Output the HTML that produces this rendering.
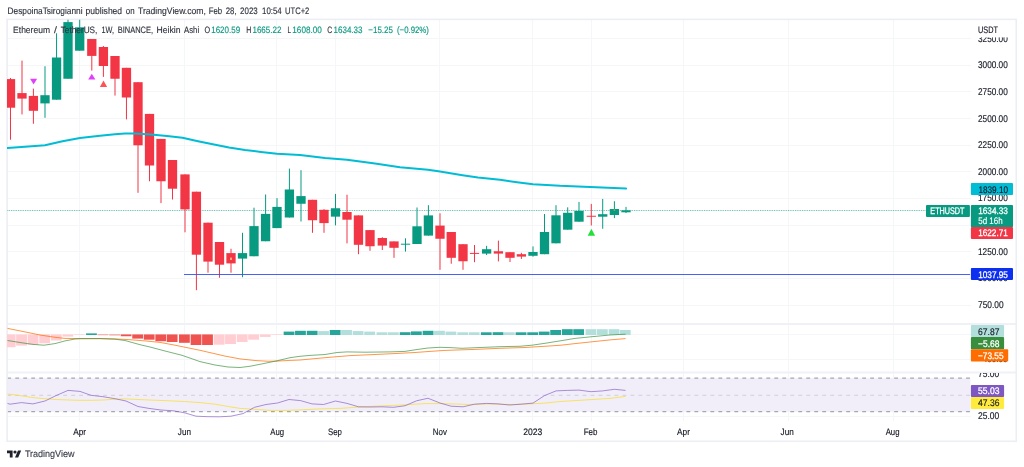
<!DOCTYPE html>
<html><head><meta charset="utf-8"><title>ETHUSDT chart</title>
<style>html,body{margin:0;padding:0;background:#fff}svg{display:block}</style></head>
<body>
<svg width="1024" height="467" viewBox="0 0 1024 467" font-family="Liberation Sans, sans-serif" text-rendering="geometricPrecision">
<rect width="1024" height="467" fill="#fff"/>
<text transform="translate(7.5,13.7) scale(0.3917)" font-size="24" fill="#2f333e" textLength="191.49" lengthAdjust="spacingAndGlyphs"  stroke="#2f333e" stroke-width="0.36">DespoinaTsirogianni</text>
<text transform="translate(85.6,13.7) scale(0.3917)" font-size="24" fill="#2f333e" textLength="93.19" lengthAdjust="spacingAndGlyphs"  stroke="#2f333e" stroke-width="0.36">published</text>
<text transform="translate(125.8,13.7) scale(0.3917)" font-size="24" fill="#2f333e" textLength="22.47" lengthAdjust="spacingAndGlyphs"  stroke="#2f333e" stroke-width="0.36">on</text>
<text transform="translate(138.0,13.7) scale(0.3917)" font-size="24" fill="#2f333e" textLength="173.36" lengthAdjust="spacingAndGlyphs"  stroke="#2f333e" stroke-width="0.36">TradingView.com,</text>
<text transform="translate(208.8,13.7) scale(0.3917)" font-size="24" fill="#2f333e" textLength="34.21" lengthAdjust="spacingAndGlyphs"  stroke="#2f333e" stroke-width="0.36">Feb</text>
<text transform="translate(225.7,13.7) scale(0.3917)" font-size="24" fill="#2f333e" textLength="27.83" lengthAdjust="spacingAndGlyphs"  stroke="#2f333e" stroke-width="0.36">28,</text>
<text transform="translate(240.1,13.7) scale(0.3917)" font-size="24" fill="#2f333e" textLength="44.94" lengthAdjust="spacingAndGlyphs"  stroke="#2f333e" stroke-width="0.36">2023</text>
<text transform="translate(262,13.7) scale(0.3917)" font-size="24" fill="#2f333e" textLength="50.30" lengthAdjust="spacingAndGlyphs"  stroke="#2f333e" stroke-width="0.36">10:54</text>
<text transform="translate(285,13.7) scale(0.3917)" font-size="24" fill="#2f333e" textLength="62.04" lengthAdjust="spacingAndGlyphs"  stroke="#2f333e" stroke-width="0.36">UTC+2</text>
<clipPath id="plot"><rect x="7" y="19.5" width="963.2" height="421.5"/></clipPath>
<g stroke="#f5f6f8" stroke-width="1" shape-rendering="crispEdges">
<line x1="7.5" x2="970.7" y1="38.40" y2="38.40"/>
<line x1="7.5" x2="970.7" y1="65.09" y2="65.09"/>
<line x1="7.5" x2="970.7" y1="91.78" y2="91.78"/>
<line x1="7.5" x2="970.7" y1="118.47" y2="118.47"/>
<line x1="7.5" x2="970.7" y1="145.16" y2="145.16"/>
<line x1="7.5" x2="970.7" y1="171.85" y2="171.85"/>
<line x1="7.5" x2="970.7" y1="198.54" y2="198.54"/>
<line x1="7.5" x2="970.7" y1="225.23" y2="225.23"/>
<line x1="7.5" x2="970.7" y1="251.92" y2="251.92"/>
<line x1="7.5" x2="970.7" y1="278.61" y2="278.61"/>
<line x1="7.5" x2="970.7" y1="305.30" y2="305.30"/>
<line x1="7.5" x2="970.7" y1="334.60" y2="334.60"/>
<line x1="7.5" x2="970.7" y1="359.20" y2="359.20"/>
<line x1="7.5" x2="970.7" y1="416.40" y2="416.40"/>
<line x1="79.50" x2="79.50" y1="19.5" y2="421.2"/>
<line x1="184.55" x2="184.55" y1="19.5" y2="421.2"/>
<line x1="276.80" x2="276.80" y1="19.5" y2="421.2"/>
<line x1="335.30" x2="335.30" y1="19.5" y2="421.2"/>
<line x1="439.60" x2="439.60" y1="19.5" y2="421.2"/>
<line x1="532.80" x2="532.80" y1="19.5" y2="421.2"/>
<line x1="591.10" x2="591.10" y1="19.5" y2="421.2"/>
<line x1="683.97" x2="683.97" y1="19.5" y2="421.2"/>
<line x1="788.50" x2="788.50" y1="19.5" y2="421.2"/>
<line x1="893.04" x2="893.04" y1="19.5" y2="421.2"/>
</g>
<rect x="7.5" y="378.2" width="962.9" height="33.5" fill="#f1eefa"/>
<g stroke="#a4a7b0" fill="none">
<line x1="7.3" x2="970.4" y1="378.2" y2="378.2" stroke-width="1.25" stroke-dasharray="3.8 4.19"/>
<line x1="7.3" x2="970.4" y1="411.7" y2="411.7" stroke-width="1.25" stroke-dasharray="3.8 4.19"/>
<line x1="7.3" x2="970.4" y1="395.3" y2="395.3" stroke-width="0.55" stroke-opacity="0.8" stroke-dasharray="3.8 4.19"/>
</g>
<g stroke="#eceef4" stroke-width="1.6" fill="none">
<line x1="7.1" x2="1016.3" y1="323.9" y2="323.9" stroke="#eff1f6" stroke-width="2"/>
<line x1="7.1" x2="1016.3" y1="372.6" y2="372.6" stroke="#eff1f6" stroke-width="2"/>
<rect x="7.1" y="19.4" width="1009.1999999999999" height="421.90000000000003"/>
</g>
<g clip-path="url(#plot)">
<line x1="7.5" x2="926" y1="210.5" y2="210.5" stroke="#089981" stroke-width="1" stroke-dasharray="0.9 0.85" stroke-opacity="0.65"/>
<rect x="10.00" y="78.00" width="1" height="61.70" fill="#F23645"/>
<rect x="5.85" y="79.10" width="9.3" height="28.60" fill="#F23645"/>
<rect x="21.50" y="60.60" width="1" height="53.80" fill="#F23645"/>
<rect x="17.35" y="93.10" width="9.3" height="5.50" fill="#F23645"/>
<rect x="32.90" y="88.60" width="1" height="35.15" fill="#F23645"/>
<rect x="28.75" y="95.90" width="9.3" height="14.90" fill="#F23645"/>
<rect x="44.50" y="66.25" width="1" height="51.55" fill="#089981"/>
<rect x="40.35" y="95.20" width="9.3" height="8.20" fill="#089981"/>
<rect x="56.05" y="33.30" width="1" height="66.40" fill="#089981"/>
<rect x="51.90" y="57.50" width="9.3" height="42.20" fill="#089981"/>
<rect x="67.50" y="19.50" width="1" height="59.25" fill="#089981"/>
<rect x="63.35" y="22.10" width="9.3" height="56.65" fill="#089981"/>
<rect x="79.20" y="19.50" width="1" height="31.20" fill="#089981"/>
<rect x="75.05" y="27.30" width="9.3" height="23.40" fill="#089981"/>
<rect x="91.30" y="39.00" width="1" height="31.60" fill="#F23645"/>
<rect x="87.15" y="39.00" width="9.3" height="16.90" fill="#F23645"/>
<rect x="102.90" y="46.00" width="1" height="30.90" fill="#F23645"/>
<rect x="98.75" y="47.00" width="9.3" height="19.00" fill="#F23645"/>
<rect x="114.50" y="56.00" width="1" height="39.60" fill="#F23645"/>
<rect x="110.35" y="56.00" width="9.3" height="22.75" fill="#F23645"/>
<rect x="125.95" y="67.80" width="1" height="51.60" fill="#F23645"/>
<rect x="121.80" y="67.80" width="9.3" height="29.70" fill="#F23645"/>
<rect x="137.50" y="82.20" width="1" height="110.60" fill="#F23645"/>
<rect x="133.35" y="82.20" width="9.3" height="63.10" fill="#F23645"/>
<rect x="149.00" y="113.90" width="1" height="67.35" fill="#F23645"/>
<rect x="144.85" y="113.90" width="9.3" height="51.60" fill="#F23645"/>
<rect x="160.50" y="138.90" width="1" height="64.20" fill="#F23645"/>
<rect x="156.35" y="138.90" width="9.3" height="42.35" fill="#F23645"/>
<rect x="172.00" y="160.00" width="1" height="39.50" fill="#F23645"/>
<rect x="167.85" y="160.00" width="9.3" height="28.70" fill="#F23645"/>
<rect x="184.50" y="174.40" width="1" height="57.90" fill="#F23645"/>
<rect x="180.35" y="174.40" width="9.3" height="35.00" fill="#F23645"/>
<rect x="195.90" y="191.70" width="1" height="98.50" fill="#F23645"/>
<rect x="191.75" y="191.70" width="9.3" height="63.00" fill="#F23645"/>
<rect x="207.50" y="222.70" width="1" height="50.00" fill="#F23645"/>
<rect x="203.35" y="222.70" width="9.3" height="38.90" fill="#F23645"/>
<rect x="219.00" y="242.00" width="1" height="35.70" fill="#F23645"/>
<rect x="214.85" y="242.00" width="9.3" height="22.70" fill="#F23645"/>
<rect x="230.50" y="248.75" width="1" height="23.95" fill="#F23645"/>
<rect x="226.35" y="253.10" width="9.3" height="10.30" fill="#F23645"/>
<rect x="242.00" y="232.80" width="1" height="44.40" fill="#089981"/>
<rect x="237.85" y="253.10" width="9.3" height="5.50" fill="#089981"/>
<rect x="253.50" y="207.70" width="1" height="48.55" fill="#089981"/>
<rect x="249.35" y="226.10" width="9.3" height="30.15" fill="#089981"/>
<rect x="265.10" y="194.50" width="1" height="46.75" fill="#089981"/>
<rect x="260.95" y="213.90" width="9.3" height="27.35" fill="#089981"/>
<rect x="276.50" y="198.10" width="1" height="30.00" fill="#089981"/>
<rect x="272.35" y="206.90" width="9.3" height="21.20" fill="#089981"/>
<rect x="288.90" y="168.60" width="1" height="48.90" fill="#089981"/>
<rect x="284.75" y="189.50" width="9.3" height="28.00" fill="#089981"/>
<rect x="300.50" y="170.20" width="1" height="51.30" fill="#089981"/>
<rect x="296.35" y="196.10" width="9.3" height="7.65" fill="#089981"/>
<rect x="312.00" y="199.80" width="1" height="33.00" fill="#F23645"/>
<rect x="307.85" y="199.80" width="9.3" height="20.45" fill="#F23645"/>
<rect x="323.50" y="209.20" width="1" height="23.60" fill="#F23645"/>
<rect x="319.35" y="209.80" width="9.3" height="13.30" fill="#F23645"/>
<rect x="335.00" y="193.90" width="1" height="31.50" fill="#089981"/>
<rect x="330.85" y="208.25" width="9.3" height="8.40" fill="#089981"/>
<rect x="346.50" y="194.70" width="1" height="48.70" fill="#F23645"/>
<rect x="342.35" y="212.00" width="9.3" height="7.70" fill="#F23645"/>
<rect x="357.95" y="215.40" width="1" height="38.80" fill="#F23645"/>
<rect x="353.80" y="215.40" width="9.3" height="29.40" fill="#F23645"/>
<rect x="369.50" y="230.10" width="1" height="20.70" fill="#F23645"/>
<rect x="365.35" y="230.10" width="9.3" height="16.15" fill="#F23645"/>
<rect x="381.80" y="237.20" width="1" height="12.80" fill="#F23645"/>
<rect x="377.65" y="238.00" width="9.3" height="7.60" fill="#F23645"/>
<rect x="393.50" y="241.40" width="1" height="16.40" fill="#F23645"/>
<rect x="389.35" y="241.40" width="9.3" height="6.40" fill="#F23645"/>
<rect x="405.00" y="238.30" width="1" height="13.30" fill="#089981"/>
<rect x="400.85" y="243.70" width="9.3" height="1.00" fill="#089981"/>
<rect x="416.50" y="207.50" width="1" height="36.50" fill="#089981"/>
<rect x="412.35" y="226.30" width="9.3" height="17.70" fill="#089981"/>
<rect x="427.90" y="205.20" width="1" height="30.40" fill="#089981"/>
<rect x="423.75" y="215.40" width="9.3" height="20.20" fill="#089981"/>
<rect x="439.50" y="213.30" width="1" height="56.50" fill="#F23645"/>
<rect x="435.35" y="225.60" width="9.3" height="13.15" fill="#F23645"/>
<rect x="450.75" y="232.00" width="1" height="31.75" fill="#F23645"/>
<rect x="446.60" y="232.00" width="9.3" height="25.80" fill="#F23645"/>
<rect x="462.50" y="244.20" width="1" height="25.60" fill="#F23645"/>
<rect x="458.35" y="244.20" width="9.3" height="17.05" fill="#F23645"/>
<rect x="474.00" y="245.00" width="1" height="17.20" fill="#F23645"/>
<rect x="469.85" y="252.90" width="9.3" height="1.00" fill="#F23645"/>
<rect x="486.10" y="245.80" width="1" height="9.20" fill="#089981"/>
<rect x="481.95" y="249.20" width="9.3" height="4.40" fill="#089981"/>
<rect x="497.90" y="240.60" width="1" height="20.80" fill="#F23645"/>
<rect x="493.75" y="251.25" width="9.3" height="2.35" fill="#F23645"/>
<rect x="509.50" y="252.20" width="1" height="9.80" fill="#F23645"/>
<rect x="505.35" y="252.20" width="9.3" height="5.60" fill="#F23645"/>
<rect x="520.90" y="252.80" width="1" height="6.10" fill="#F23645"/>
<rect x="516.75" y="254.20" width="9.3" height="2.40" fill="#F23645"/>
<rect x="532.50" y="246.40" width="1" height="10.30" fill="#089981"/>
<rect x="528.35" y="252.00" width="9.3" height="3.80" fill="#089981"/>
<rect x="544.00" y="214.00" width="1" height="40.20" fill="#089981"/>
<rect x="539.85" y="232.00" width="9.3" height="22.20" fill="#089981"/>
<rect x="555.50" y="205.20" width="1" height="38.10" fill="#089981"/>
<rect x="551.35" y="215.30" width="9.3" height="28.00" fill="#089981"/>
<rect x="567.20" y="207.30" width="1" height="22.40" fill="#089981"/>
<rect x="563.05" y="212.80" width="9.3" height="16.90" fill="#089981"/>
<rect x="578.50" y="201.90" width="1" height="19.80" fill="#089981"/>
<rect x="574.35" y="210.90" width="9.3" height="10.80" fill="#089981"/>
<rect x="590.80" y="203.90" width="1" height="21.60" fill="#F23645"/>
<rect x="586.65" y="215.75" width="9.3" height="1.00" fill="#F23645"/>
<rect x="602.20" y="198.90" width="1" height="29.85" fill="#089981"/>
<rect x="598.05" y="214.20" width="9.3" height="2.50" fill="#089981"/>
<rect x="613.90" y="201.25" width="1" height="16.85" fill="#089981"/>
<rect x="609.75" y="209.00" width="9.3" height="6.00" fill="#089981"/>
<rect x="625.50" y="206.90" width="1" height="6.10" fill="#089981"/>
<rect x="621.35" y="210.30" width="9.3" height="2.00" fill="#089981"/>
<rect x="230.40" y="257.6" width="1.2" height="2.4" fill="#FFF59D"/>
<rect x="613.70" y="209.4" width="1.4" height="1.4" fill="#9ab83a"/>
<line x1="184" x2="970.7" y1="274.5" y2="274.5" stroke="#3350f5" stroke-width="0.9"/>
<polyline points="7.50,148.00 25.00,146.80 45.00,145.20 62.50,141.25 80.00,138.10 100.00,135.80 115.00,134.30 125.00,133.60 135.00,133.40 151.00,134.40 167.00,135.90 182.50,137.80 198.00,141.25 214.00,144.50 229.00,147.50 245.00,150.00 261.00,151.90 277.00,153.75 300.00,155.00 325.00,158.10 347.00,159.70 375.00,163.60 400.00,167.20 428.00,169.70 440.00,171.60 462.50,175.20 478.00,177.50 500.00,179.80 517.00,182.20 533.00,184.20 560.00,185.80 590.00,186.90 626.00,188.60" fill="none" stroke="#00BCD4" stroke-width="2" stroke-linejoin="round" stroke-linecap="round"/>
<polygon points="30.10,78.75 37.10,78.75 33.60,84.40" fill="#E040FB"/>
<polygon points="91.80,73.80 95.40,79.60 88.20,79.60" fill="#E040FB"/>
<polygon points="103.50,80.40 107.10,87.00 99.90,87.00" fill="#FF5252"/>
<polygon points="591.40,228.70 595.10,235.70 587.70,235.70" fill="#22E03A"/>
<rect x="4.75" y="334.40" width="10.8" height="12.80" fill="#FFCDD2"/>
<rect x="16.15" y="334.40" width="10.8" height="11.20" fill="#FFCDD2"/>
<rect x="27.65" y="334.40" width="10.8" height="10.30" fill="#FFCDD2"/>
<rect x="39.25" y="334.40" width="10.8" height="8.90" fill="#FFCDD2"/>
<rect x="50.80" y="334.40" width="10.8" height="6.10" fill="#FFCDD2"/>
<rect x="62.45" y="334.40" width="10.8" height="2.20" fill="#FFCDD2"/>
<rect x="73.95" y="334.40" width="10.8" height="0.60" fill="#FFCDD2"/>
<rect x="86.05" y="333.40" width="10.8" height="1.60" fill="#26A69A"/>
<rect x="97.65" y="334.40" width="10.8" height="0.80" fill="#F28B88"/>
<rect x="109.25" y="334.40" width="10.8" height="1.00" fill="#F28B88"/>
<rect x="120.70" y="334.40" width="10.8" height="1.85" fill="#EF5350"/>
<rect x="132.25" y="334.40" width="10.8" height="4.20" fill="#EF5350"/>
<rect x="143.75" y="334.40" width="10.8" height="5.30" fill="#EF5350"/>
<rect x="155.35" y="334.40" width="10.8" height="6.85" fill="#EF5350"/>
<rect x="166.75" y="334.40" width="10.8" height="7.60" fill="#EF5350"/>
<rect x="179.00" y="334.40" width="10.8" height="8.40" fill="#EF5350"/>
<rect x="190.65" y="334.40" width="10.8" height="10.60" fill="#EF5350"/>
<rect x="202.10" y="334.40" width="10.8" height="10.60" fill="#EF5350"/>
<rect x="213.75" y="334.40" width="10.8" height="10.30" fill="#FFCDD2"/>
<rect x="225.10" y="334.40" width="10.8" height="9.60" fill="#FFCDD2"/>
<rect x="236.75" y="334.40" width="10.8" height="7.60" fill="#FFCDD2"/>
<rect x="248.20" y="334.40" width="10.8" height="5.30" fill="#FFCDD2"/>
<rect x="259.85" y="334.40" width="10.8" height="2.50" fill="#FFCDD2"/>
<rect x="271.25" y="334.40" width="10.8" height="0.60" fill="#FFCDD2"/>
<rect x="283.65" y="331.60" width="10.8" height="3.40" fill="#26A69A"/>
<rect x="295.05" y="330.80" width="10.8" height="4.20" fill="#26A69A"/>
<rect x="306.75" y="330.80" width="10.8" height="4.20" fill="#26A69A"/>
<rect x="318.15" y="331.10" width="10.8" height="3.90" fill="#B2DFDB"/>
<rect x="329.75" y="330.00" width="10.8" height="5.00" fill="#26A69A"/>
<rect x="341.15" y="330.00" width="10.8" height="5.00" fill="#B2DFDB"/>
<rect x="352.70" y="331.10" width="10.8" height="3.90" fill="#B2DFDB"/>
<rect x="364.25" y="331.60" width="10.8" height="3.40" fill="#B2DFDB"/>
<rect x="376.55" y="332.30" width="10.8" height="2.70" fill="#B2DFDB"/>
<rect x="387.90" y="332.30" width="10.8" height="2.70" fill="#B2DFDB"/>
<rect x="399.75" y="332.20" width="10.8" height="2.80" fill="#26A69A"/>
<rect x="410.95" y="331.40" width="10.8" height="3.60" fill="#26A69A"/>
<rect x="422.65" y="330.80" width="10.8" height="4.20" fill="#26A69A"/>
<rect x="434.05" y="330.80" width="10.8" height="4.20" fill="#B2DFDB"/>
<rect x="445.50" y="331.60" width="10.8" height="3.40" fill="#B2DFDB"/>
<rect x="457.35" y="332.30" width="10.8" height="2.70" fill="#B2DFDB"/>
<rect x="468.75" y="332.30" width="10.8" height="2.70" fill="#B2DFDB"/>
<rect x="480.85" y="332.30" width="10.8" height="2.70" fill="#26A69A"/>
<rect x="492.65" y="332.20" width="10.8" height="2.80" fill="#26A69A"/>
<rect x="503.95" y="332.30" width="10.8" height="2.70" fill="#B2DFDB"/>
<rect x="515.65" y="332.30" width="10.8" height="2.70" fill="#26A69A"/>
<rect x="527.25" y="332.30" width="10.8" height="2.70" fill="#26A69A"/>
<rect x="538.75" y="331.60" width="10.8" height="3.40" fill="#26A69A"/>
<rect x="550.25" y="330.00" width="10.8" height="5.00" fill="#26A69A"/>
<rect x="561.95" y="329.20" width="10.8" height="5.80" fill="#26A69A"/>
<rect x="573.25" y="329.20" width="10.8" height="5.80" fill="#26A69A"/>
<rect x="585.55" y="329.20" width="10.8" height="5.80" fill="#B2DFDB"/>
<rect x="596.95" y="329.20" width="10.8" height="5.80" fill="#B2DFDB"/>
<rect x="608.65" y="329.20" width="10.8" height="5.80" fill="#B2DFDB"/>
<rect x="619.85" y="330.00" width="10.8" height="5.00" fill="#B2DFDB"/>
<polyline points="7.50,328.40 25.00,331.90 40.00,335.00 55.00,337.30 65.00,338.40 80.00,338.60 100.00,338.60 115.00,338.90 130.00,339.70 145.00,340.90 160.00,342.40 175.00,345.20 200.00,350.30 225.00,356.10 240.00,358.90 255.00,360.50 268.00,361.25 277.00,361.10 290.00,360.40 300.00,360.00 325.00,357.70 350.00,355.60 375.00,354.50 400.00,353.30 415.00,352.50 430.00,351.40 445.00,350.40 460.00,349.90 475.00,349.40 500.00,348.30 525.00,347.50 545.00,346.25 560.00,345.30 575.00,343.60 590.00,342.00 610.00,339.90 625.60,338.60" fill="none" stroke="#FF6D00" stroke-width="0.85" stroke-opacity="0.85" stroke-linejoin="round"/>
<polyline points="7.50,340.50 22.00,342.80 33.00,344.40 44.00,345.20 55.00,343.60 65.00,340.90 75.00,339.00 80.00,338.70 100.00,338.60 115.00,339.20 125.00,340.50 140.00,344.70 150.00,347.00 165.00,351.00 182.00,355.30 200.00,361.60 215.00,365.00 228.00,367.00 240.00,367.50 250.00,366.25 262.00,363.90 277.00,360.80 290.00,357.70 300.00,356.30 310.00,355.40 325.00,354.50 337.00,352.50 347.00,351.90 365.00,352.20 390.00,351.90 405.00,351.40 415.00,349.80 428.00,348.00 440.00,347.30 450.00,347.60 462.00,348.30 480.00,347.50 500.00,346.70 520.00,346.25 532.00,345.20 545.00,343.30 560.00,340.90 575.00,338.40 590.00,336.90 610.00,335.00 625.60,334.20" fill="none" stroke="#388E3C" stroke-width="0.85" stroke-opacity="0.8" stroke-linejoin="round"/>
<polyline points="7.50,394.00 20.00,395.60 33.00,397.60 45.00,398.70 56.00,399.50 68.00,400.00 80.00,400.30 91.00,400.30 103.00,400.00 115.00,399.20 126.00,398.90 138.00,399.50 149.00,400.00 160.00,400.40 184.50,401.50 200.00,402.60 215.00,404.20 228.00,406.50 240.00,408.40 255.00,409.30 270.00,410.40 285.00,410.40 300.00,409.90 320.00,408.90 340.00,408.40 355.00,407.30 375.00,406.20 395.00,405.30 410.00,404.50 425.00,403.60 440.00,403.60 455.00,404.00 470.00,404.50 490.00,403.90 510.00,404.50 530.00,403.90 545.00,403.10 560.00,401.50 575.00,400.60 591.00,399.60 610.00,398.40 625.60,396.40" fill="none" stroke="#F7DF3F" stroke-width="1" stroke-opacity="0.8" stroke-linejoin="round"/>
<polyline points="7.50,403.40 10.00,404.20 21.50,402.60 33.00,403.90 45.00,401.00 56.00,395.60 68.00,390.40 80.00,391.40 91.00,395.30 103.00,396.70 115.00,398.70 126.00,401.00 138.00,406.50 149.00,408.40 161.00,410.00 173.00,410.75 184.50,412.80 196.00,416.20 208.00,416.70 219.50,416.80 231.00,416.20 243.00,413.60 254.50,407.30 266.00,404.50 277.50,403.00 289.00,399.50 300.50,400.60 312.00,403.90 323.50,404.50 335.50,401.00 347.00,403.40 358.50,406.80 370.00,407.00 382.00,406.80 393.50,407.30 405.00,405.75 416.70,400.75 428.00,398.25 440.00,403.00 451.00,406.20 463.00,406.80 474.50,404.20 486.50,403.40 498.00,403.90 509.70,405.00 521.00,404.20 533.00,403.10 544.50,395.60 556.00,390.90 567.70,390.40 579.00,390.10 591.00,391.70 602.70,390.90 614.40,389.30 625.60,390.40" fill="none" stroke="#7E57C2" stroke-width="0.9" stroke-opacity="0.72" stroke-linejoin="round"/>
</g>
<text transform="translate(13.1,32.8) scale(0.3833)" font-size="24" fill="#2f333e" textLength="96.26" lengthAdjust="spacingAndGlyphs"  stroke="#2f333e" stroke-width="0.37">Ethereum</text>
<text transform="translate(53.9,32.8) scale(0.3833)" font-size="24" fill="#2f333e" textLength="7.57" lengthAdjust="spacingAndGlyphs"  stroke="#2f333e" stroke-width="0.37">/</text>
<text transform="translate(60.7,32.8) scale(0.3833)" font-size="24" fill="#2f333e" textLength="95.74" lengthAdjust="spacingAndGlyphs"  stroke="#2f333e" stroke-width="0.37">TetherUS,</text>
<text transform="translate(101.4,32.8) scale(0.3833)" font-size="24" fill="#2f333e" textLength="32.87" lengthAdjust="spacingAndGlyphs"  stroke="#2f333e" stroke-width="0.37">1W,</text>
<text transform="translate(117.7,32.8) scale(0.3833)" font-size="24" fill="#2f333e" textLength="92.09" lengthAdjust="spacingAndGlyphs"  stroke="#2f333e" stroke-width="0.37">BINANCE,</text>
<text transform="translate(156.6,32.8) scale(0.3833)" font-size="24" fill="#2f333e" textLength="62.35" lengthAdjust="spacingAndGlyphs"  stroke="#2f333e" stroke-width="0.37">Heikin</text>
<text transform="translate(184.1,32.8) scale(0.3833)" font-size="24" fill="#2f333e" textLength="39.13" lengthAdjust="spacingAndGlyphs"  stroke="#2f333e" stroke-width="0.37">Ashi</text>
<text transform="translate(204.6,32.8) scale(0.3833)" font-size="24" fill="#2f333e" textLength="14.61" lengthAdjust="spacingAndGlyphs"  stroke="#2f333e" stroke-width="0.37">O</text>
<text transform="translate(246.2,32.8) scale(0.3833)" font-size="24" fill="#2f333e" textLength="13.30" lengthAdjust="spacingAndGlyphs"  stroke="#2f333e" stroke-width="0.37">H</text>
<text transform="translate(287.6,32.8) scale(0.3833)" font-size="24" fill="#2f333e" textLength="9.13" lengthAdjust="spacingAndGlyphs"  stroke="#2f333e" stroke-width="0.37">L</text>
<text transform="translate(327.3,32.8) scale(0.3833)" font-size="24" fill="#2f333e" textLength="13.04" lengthAdjust="spacingAndGlyphs"  stroke="#2f333e" stroke-width="0.37">C</text>
<text transform="translate(211.2,32.8) scale(0.3833)" font-size="24" fill="#089981" textLength="75.39" lengthAdjust="spacingAndGlyphs"  stroke="#089981" stroke-width="0.37">1620.59</text>
<text transform="translate(252.4,32.8) scale(0.3833)" font-size="24" fill="#089981" textLength="75.91" lengthAdjust="spacingAndGlyphs"  stroke="#089981" stroke-width="0.37">1665.22</text>
<text transform="translate(292.3,32.8) scale(0.3833)" font-size="24" fill="#089981" textLength="76.96" lengthAdjust="spacingAndGlyphs"  stroke="#089981" stroke-width="0.37">1608.00</text>
<text transform="translate(333.5,32.8) scale(0.3833)" font-size="24" fill="#089981" textLength="75.65" lengthAdjust="spacingAndGlyphs"  stroke="#089981" stroke-width="0.37">1634.33</text>
<text transform="translate(368.3,32.8) scale(0.3833)" font-size="24" fill="#089981" textLength="64.17" lengthAdjust="spacingAndGlyphs"  stroke="#089981" stroke-width="0.37">−15.25</text>
<text transform="translate(397,32.8) scale(0.3833)" font-size="24" fill="#089981" textLength="83.22" lengthAdjust="spacingAndGlyphs"  stroke="#089981" stroke-width="0.37">(−0.92%)</text>
<text transform="translate(978,41.78) scale(0.4083)" font-size="24" fill="#131722" textLength="72.86" lengthAdjust="spacingAndGlyphs"  stroke="#131722" stroke-width="0.34">3250.00</text>
<text transform="translate(978,68.4) scale(0.4083)" font-size="24" fill="#131722" textLength="72.86" lengthAdjust="spacingAndGlyphs"  stroke="#131722" stroke-width="0.34">3000.00</text>
<text transform="translate(978,95.02) scale(0.4083)" font-size="24" fill="#131722" textLength="72.86" lengthAdjust="spacingAndGlyphs"  stroke="#131722" stroke-width="0.34">2750.00</text>
<text transform="translate(978,121.64) scale(0.4083)" font-size="24" fill="#131722" textLength="72.86" lengthAdjust="spacingAndGlyphs"  stroke="#131722" stroke-width="0.34">2500.00</text>
<text transform="translate(978,148.26) scale(0.4083)" font-size="24" fill="#131722" textLength="72.86" lengthAdjust="spacingAndGlyphs"  stroke="#131722" stroke-width="0.34">2250.00</text>
<text transform="translate(978,174.88) scale(0.4083)" font-size="24" fill="#131722" textLength="72.86" lengthAdjust="spacingAndGlyphs"  stroke="#131722" stroke-width="0.34">2000.00</text>
<text transform="translate(978,200.95) scale(0.4083)" font-size="24" fill="#131722" textLength="72.86" lengthAdjust="spacingAndGlyphs"  stroke="#131722" stroke-width="0.34">1750.00</text>
<text transform="translate(978,254.74) scale(0.4083)" font-size="24" fill="#131722" textLength="72.86" lengthAdjust="spacingAndGlyphs"  stroke="#131722" stroke-width="0.34">1250.00</text>
<text transform="translate(978,281.36) scale(0.4083)" font-size="24" fill="#131722" textLength="72.86" lengthAdjust="spacingAndGlyphs"  stroke="#131722" stroke-width="0.34">1000.00</text>
<text transform="translate(978,307.98) scale(0.4083)" font-size="24" fill="#131722" textLength="62.69" lengthAdjust="spacingAndGlyphs"  stroke="#131722" stroke-width="0.34">750.00</text>
<rect x="975" y="21" width="36" height="16.4" fill="#fff"/>
<text transform="translate(978,32.6) scale(0.3917)" font-size="24" fill="#131722" textLength="51.06" lengthAdjust="spacingAndGlyphs"  stroke="#131722" stroke-width="0.36">USDT</text>
<text transform="translate(978,362.3) scale(0.4083)" font-size="24" fill="#131722" textLength="72.24" lengthAdjust="spacingAndGlyphs"  stroke="#131722" stroke-width="0.34">−400.00</text>
<clipPath id="rsiax"><rect x="971" y="373" width="45" height="50"/></clipPath>
<g clip-path="url(#rsiax)">
<text transform="translate(978,376.5) scale(0.4083)" font-size="24" fill="#131722" textLength="51.92" lengthAdjust="spacingAndGlyphs"  stroke="#131722" stroke-width="0.34">75.00</text>
</g>
<text transform="translate(978,419.1) scale(0.4083)" font-size="24" fill="#131722" textLength="51.92" lengthAdjust="spacingAndGlyphs"  stroke="#131722" stroke-width="0.34">25.00</text>
<rect x="970.9" y="183.1" width="42.10" height="12.00" fill="#00BCD4" rx="1"/>
<text transform="translate(978.4,192.6) scale(0.4000)" font-size="24" fill="#131722" textLength="74.00" lengthAdjust="spacingAndGlyphs"  stroke="#131722" stroke-width="0.35">1839.10</text>
<rect x="926" y="204.9" width="43.90" height="12.00" fill="#089981" rx="1"/>
<text transform="translate(930.3,213.9) scale(0.4000)" font-size="24" fill="#fff" textLength="85.50" lengthAdjust="spacingAndGlyphs" stroke="#fff" stroke-width="0.70">ETHUSDT</text>
<rect x="970.9" y="204.9" width="42.10" height="22.30" fill="#089981" rx="1"/>
<text transform="translate(978.2,213.9) scale(0.4000)" font-size="24" fill="#fff" textLength="74.25" lengthAdjust="spacingAndGlyphs" stroke="#fff" stroke-width="0.70">1634.33</text>
<text transform="translate(978.2,223.7) scale(0.4000)" font-size="24" fill="#fff" textLength="61.00" lengthAdjust="spacingAndGlyphs"  stroke="#fff" stroke-width="0.35">5d 16h</text>
<rect x="970.9" y="227.0" width="42.10" height="12.10" fill="#F23645" rx="1"/>
<text transform="translate(978.2,236.3) scale(0.4000)" font-size="24" fill="#fff" textLength="74.00" lengthAdjust="spacingAndGlyphs" stroke="#fff" stroke-width="0.70">1622.71</text>
<rect x="970.9" y="268.05" width="42.10" height="12.05" fill="#0D30F0" rx="1"/>
<text transform="translate(978.2,277.5) scale(0.4000)" font-size="24" fill="#fff" textLength="74.25" lengthAdjust="spacingAndGlyphs" stroke="#fff" stroke-width="0.70">1037.95</text>
<rect x="970.9" y="325.1" width="33.20" height="12.00" fill="#B2DFDB" rx="1"/>
<text transform="translate(978,334.5) scale(0.4000)" font-size="24" fill="#131722" textLength="53.50" lengthAdjust="spacingAndGlyphs"  stroke="#131722" stroke-width="0.35">67.87</text>
<rect x="970.9" y="337.1" width="33.20" height="12.20" fill="#388E3C" rx="1"/>
<text transform="translate(978,346.5) scale(0.4000)" font-size="24" fill="#fff" textLength="53.50" lengthAdjust="spacingAndGlyphs" stroke="#fff" stroke-width="0.70">−5.68</text>
<rect x="970.9" y="349.3" width="37.30" height="12.20" fill="#FF6D00" rx="1"/>
<text transform="translate(978,358.5) scale(0.4000)" font-size="24" fill="#fff" textLength="64.00" lengthAdjust="spacingAndGlyphs" stroke="#fff" stroke-width="0.70">−73.55</text>
<rect x="970.9" y="385" width="33.20" height="12.00" fill="#7E57C2" rx="1"/>
<text transform="translate(978,393.9) scale(0.4000)" font-size="24" fill="#fff" textLength="53.50" lengthAdjust="spacingAndGlyphs" stroke="#fff" stroke-width="0.70">55.03</text>
<rect x="970.9" y="397" width="33.20" height="12.00" fill="#FFEB3B" rx="1"/>
<text transform="translate(978,405.9) scale(0.4000)" font-size="24" fill="#131722" textLength="53.50" lengthAdjust="spacingAndGlyphs"  stroke="#131722" stroke-width="0.35">47.36</text>
<text transform="translate(73.15,434.6) scale(0.3917)" font-size="24" fill="#131722" textLength="32.94" lengthAdjust="spacingAndGlyphs"  stroke="#131722" stroke-width="0.36">Apr</text>
<text transform="translate(177.80,434.6) scale(0.3917)" font-size="24" fill="#131722" textLength="33.70" lengthAdjust="spacingAndGlyphs"  stroke="#131722" stroke-width="0.36">Jun</text>
<text transform="translate(270.30,434.6) scale(0.3917)" font-size="24" fill="#131722" textLength="35.23" lengthAdjust="spacingAndGlyphs"  stroke="#131722" stroke-width="0.36">Aug</text>
<text transform="translate(328.05,434.6) scale(0.3917)" font-size="24" fill="#131722" textLength="35.49" lengthAdjust="spacingAndGlyphs"  stroke="#131722" stroke-width="0.36">Sep</text>
<text transform="translate(432.85,434.6) scale(0.3917)" font-size="24" fill="#131722" textLength="36.00" lengthAdjust="spacingAndGlyphs"  stroke="#131722" stroke-width="0.36">Nov</text>
<text transform="translate(523.15,434.6) scale(0.3917)" font-size="24" fill="#131722" textLength="48.77" lengthAdjust="spacingAndGlyphs"  stroke="#131722" stroke-width="0.36">2023</text>
<text transform="translate(583.65,434.6) scale(0.3917)" font-size="24" fill="#131722" textLength="34.98" lengthAdjust="spacingAndGlyphs"  stroke="#131722" stroke-width="0.36">Feb</text>
<text transform="translate(677.05,434.6) scale(0.3917)" font-size="24" fill="#131722" textLength="32.94" lengthAdjust="spacingAndGlyphs"  stroke="#131722" stroke-width="0.36">Apr</text>
<text transform="translate(780.60,434.6) scale(0.3917)" font-size="24" fill="#131722" textLength="33.70" lengthAdjust="spacingAndGlyphs"  stroke="#131722" stroke-width="0.36">Jun</text>
<text transform="translate(885.70,434.6) scale(0.3917)" font-size="24" fill="#131722" textLength="35.23" lengthAdjust="spacingAndGlyphs"  stroke="#131722" stroke-width="0.36">Aug</text>
<g transform="translate(7,448.85) scale(0.4,0.39)" fill="#1e222d"><path d="M14 22H7V11H0V4h14v18zM28 22h-8l7.5-18h8L28 22z"/><circle cx="20" cy="8" r="4"/></g>
<text transform="translate(24.9,457.4) scale(0.4000)" font-size="24" fill="#3a3e49" textLength="124.00" lengthAdjust="spacingAndGlyphs"  stroke="#3a3e49" stroke-width="0.35">TradingView</text>
</svg>
</body></html>
